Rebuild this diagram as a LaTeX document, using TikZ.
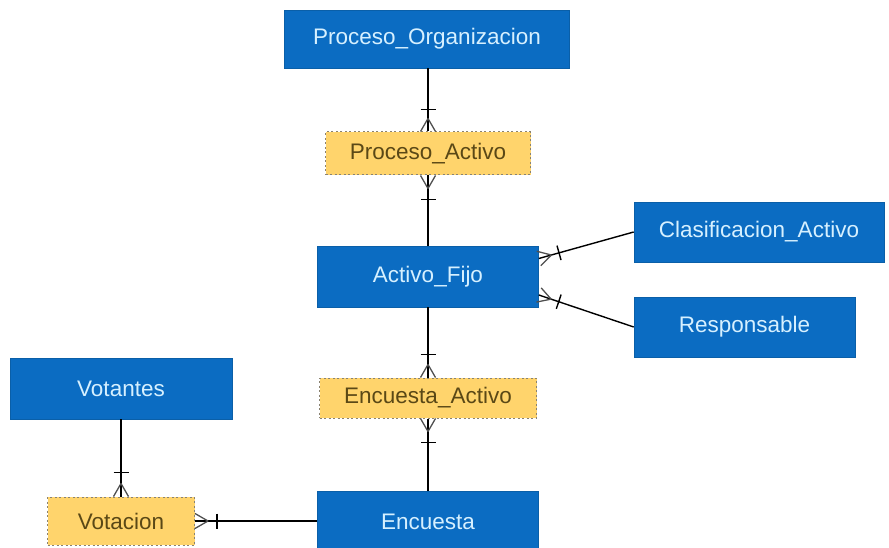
\documentclass[tikz,border=0pt]{standalone}
\usepackage{fontspec}
\setmainfont{Liberation Sans}
\usetikzlibrary{calc}
\definecolor{entblue}{HTML}{0B6CC2}
\definecolor{entedge}{HTML}{0A5FA8}
\definecolor{enttext}{HTML}{D6F0FF}
\definecolor{weakfill}{HTML}{FFD46C}
\definecolor{weakedge}{HTML}{8A8270}
\definecolor{weaktext}{HTML}{5A4816}
\definecolor{footgray}{HTML}{505050}
\newcommand{\crowfoot}[2]{%
  \draw[footline] ($(#1)!13pt!(#2)$) -- ($(#1)!7.5pt!90:(#2)$);
  \draw[footline] ($(#1)!13pt!(#2)$) -- ($(#1)!7.5pt!-90:(#2)$);}
\newcommand{\onebar}[3]{%
  \draw[barline] ($(#1)!#3!(#2)!7.5pt!90:(#2)$) -- ($(#1)!#3!(#2)!7.5pt!-90:(#2)$);}
\begin{document}
\begin{tikzpicture}[x=1pt,y=-1pt,
  entity/.style={rectangle, fill=entblue, draw=entedge, line width=0.6pt, inner sep=0pt,
    text=enttext, font=\fontsize{22.5}{26}\selectfont},
  weak/.style={rectangle, fill=weakfill, draw=weakedge, line width=1pt, dash pattern=on 2pt off 2.5pt,
    inner sep=0pt, text=weaktext, font=\fontsize{22.5}{26}\selectfont},
  rel/.style={draw=black, line width=1.4pt},
  footline/.style={draw=footgray, line width=1.3pt},
  barline/.style={draw=black, line width=1.4pt}]
\useasboundingbox (0,0) rectangle (889,548);
\clip (0,0) rectangle (889,548);
\fill[white] (0,0) rectangle (889,548);
% entities
\node[entity, minimum width=285pt, minimum height=58pt] (po) at (427,39) {Proceso\_Organizacion};
\node[entity, minimum width=221pt, minimum height=61pt] (af) at (428,276.5) {Activo\_Fijo};
\node[entity, minimum width=250pt, minimum height=60pt] (ca) at (759,232) {Clasificacion\_Activo};
\node[entity, minimum width=221pt, minimum height=60pt] (re) at (744.5,327) {Responsable};
\node[entity, minimum width=222pt, minimum height=61pt] (vo) at (121,388.5) {Votantes};
\node[entity, minimum width=221pt, minimum height=60pt] (en) at (428,521.5) {Encuesta};
% weak entities
\node[weak, minimum width=205pt, minimum height=43pt] (pa) at (428,153.5) {Proceso\_Activo};
\node[weak, minimum width=217pt, minimum height=40pt] (ea) at (428,398) {Encuesta\_Activo};
\node[weak, minimum width=147pt, minimum height=48pt] (vt) at (121,521) {Votacion};
% connection points
\coordinate (poS) at (pa.north |- po.south);
\coordinate (af1) at ($(af.east)+(0,-18)$);
\coordinate (af2) at ($(af.east)+(0,18.5)$);
\coordinate (vtE) at (vt.east);
\coordinate (enW) at (vtE -| en.west);
% connectors
\draw[rel] (poS) -- (pa.north);
\crowfoot{pa.north}{poS}
\onebar{pa.north}{poS}{22pt}
\draw[rel] (pa.south) -- (af.north);
\crowfoot{pa.south}{af.north}
\onebar{pa.south}{af.north}{24pt}
\draw[rel] (af1) -- (ca.west);
\crowfoot{af1}{ca.west}
\onebar{af1}{ca.west}{21pt}
\draw[rel] (af2) -- (re.west);
\crowfoot{af2}{re.west}
\onebar{af2}{re.west}{21pt}
\draw[rel] (af.south) -- (ea.north);
\crowfoot{ea.north}{af.south}
\onebar{ea.north}{af.south}{23pt}
\draw[rel] (ea.south) -- (en.north);
\crowfoot{ea.south}{en.north}
\onebar{ea.south}{en.north}{24pt}
\draw[rel] (vo.south) -- (vt.north);
\crowfoot{vt.north}{vo.south}
\onebar{vt.north}{vo.south}{24pt}
\draw[rel] (vtE) -- (enW);
\crowfoot{vtE}{enW}
\onebar{vtE}{enW}{22pt}
\end{tikzpicture}
\end{document}
